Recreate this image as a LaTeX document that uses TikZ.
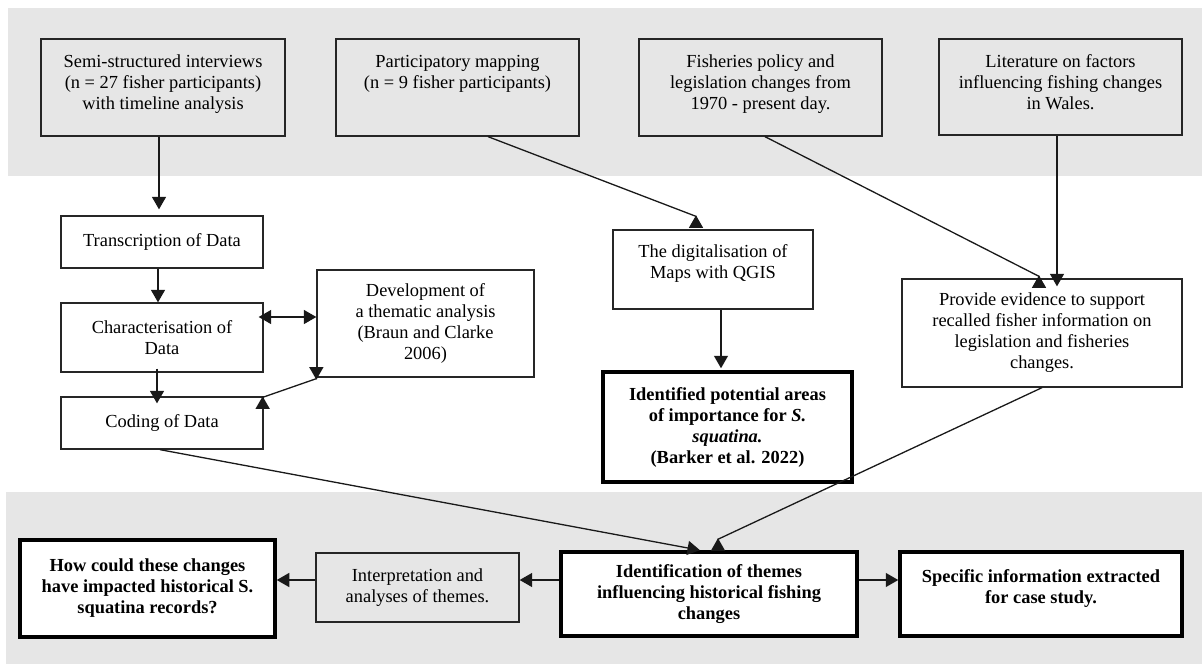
\documentclass[tikz,border=0pt]{standalone}
\usepackage{fontspec}
\setmainfont{Liberation Serif}
\usetikzlibrary{arrows.meta}
\definecolor{band}{HTML}{E6E6E6}
\newcommand{\toppar}[3]{\parbox[c][#1][t]{#2}{\centering\strut #3}}
\begin{document}
\begin{tikzpicture}[x=1pt,y=-1pt,
  box/.style={draw=black!85, line width=1.3pt, fill=white, inner sep=0pt, align=center,
    font=\fontsize{18.4}{21}\selectfont},
  gbox/.style={box, fill=band},
  bbox/.style={box, draw=black, line width=3.5pt, font=\fontsize{18.4}{21}\selectfont\bfseries},
  tipa/.tip={Triangle[length=12.5pt,width=14pt]},
  arr/.style={line width=1.3pt, draw=black!90, -tipa},
  dbl/.style={line width=1.3pt, draw=black!90, tipa-tipa}]
\useasboundingbox (0,0) rectangle (1202,664);
% bands
\fill[band] (8,8) rectangle (1202,176);
\fill[band] (6,492) rectangle (1202,664);
% top row
\node[gbox, minimum width=244pt, minimum height=97pt] (semi) at (163,87.5)
  {\toppar{70.4pt}{236pt}{Semi-structured interviews\\(n = 27 fisher participants)\\with timeline analysis}};
\node[gbox, minimum width=243pt, minimum height=97pt] (part) at (457.5,87.5)
  {\toppar{70.4pt}{235pt}{Participatory mapping\\(n = 9 fisher participants)}};
\node[gbox, minimum width=243pt, minimum height=97pt] (fish) at (760.5,87.5)
  {\toppar{70.4pt}{235pt}{Fisheries policy and\\legislation changes from\\1970 - present day.}};
\node[gbox, minimum width=243pt, minimum height=96pt] (lit) at (1060.5,87)
  {\toppar{69.4pt}{235pt}{Literature on factors\\influencing fishing changes\\in Wales.}};
% middle
\node[box, minimum width=202pt, minimum height=52pt] (trans) at (162,242) {Transcription of Data};
\node[box, minimum width=202pt, minimum height=69pt] (char) at (162,337.5) {Characterisation of\\Data};
\node[box, minimum width=217pt, minimum height=107pt] (dev) at (425.5,323.5)
  {Development of\\a thematic analysis\\(Braun and Clarke\\2006)};
\node[box, minimum width=202pt, minimum height=52pt] (coding) at (162,423) {Coding of Data};
\node[box, minimum width=200pt, minimum height=79pt] (digit) at (713,269.5)
  {\toppar{54.4pt}{192pt}{The digitalisation of\\Maps with QGIS}};
\node[bbox, minimum width=249pt, minimum height=110pt] (ident) at (727.5,427)
  {Identified potential areas\\of importance for \textit{S.}\\\textit{squatina.}\\(Barker et al. 2022)};
\node[box, minimum width=280pt, minimum height=108pt] (prov) at (1042,333)
  {Provide evidence to support\\recalled fisher information on\\legislation and fisheries\\changes.};
% bottom row
\node[bbox, minimum width=255pt, minimum height=97pt] (how) at (147.5,588.5)
  {How could these changes\\have impacted historical S.\\squatina records?};
\node[gbox, minimum width=203pt, minimum height=69pt] (interp) at (417.5,587.5)
  {Interpretation and\\analyses of themes.};
\node[bbox, minimum width=296pt, minimum height=84pt] (themes) at (709,594)
  {Identification of themes\\influencing historical fishing\\changes};
\node[bbox, minimum width=282pt, minimum height=84pt] (spec) at (1041,594)
  {\toppar{53.4pt}{270pt}{Specific information extracted\\for case study.}};
% connectors
\draw[arr, shorten >=6pt] ([xshift=-4pt]semi.south) -- ([xshift=-4pt]semi.south |- trans.north);
\draw[arr] ([xshift=-4pt]trans.south) -- ([xshift=-4pt]char.north);
\coordinate (cd) at ([yshift=20.5pt]char.east);
\draw[dbl] ([xshift=-5pt]cd) -- (cd -| dev.west);
\draw[arr] ([xshift=-5pt,yshift=4pt]char.south) -- ([xshift=-5pt,yshift=-7pt]coding.north);
\draw[dbl] ([xshift=-1pt]coding.north east) -- ++(0,1) -- ([yshift=-1pt]dev.south west) -- ++(0,1);
\draw[arr] ([xshift=30.5pt]part.south) -- ([xshift=-17pt,yshift=13pt]digit.north) -- ([xshift=-17pt,yshift=14pt]digit.north);
\draw[arr] ([xshift=4.5pt]fish.south) -- ([xshift=-3pt,yshift=2pt]prov.north) -- ([xshift=-3pt,yshift=3pt]prov.north);
\draw[arr, shorten >=-8pt] ([xshift=-3.5pt]lit.south) -- ([xshift=-3.5pt]lit.south |- prov.north);
\draw[arr, shorten >=2pt] ([xshift=8pt]digit.south) -- ([xshift=8pt]digit.south |- ident.north);
\draw[arr] ([xshift=-2pt]coding.south) -- ([xshift=-9pt]themes.north);
\draw[arr] (prov.south) -- ([xshift=9pt,yshift=11pt]themes.north) -- ([xshift=9pt,yshift=12pt]themes.north);
\draw[arr] ([yshift=14pt]themes.west) -- ([yshift=14pt]themes.west -| interp.east);
\draw[arr] ([yshift=7.5pt]interp.west) -- ([yshift=7.5pt]interp.west -| how.east);
\draw[arr] ([yshift=14pt]themes.east) -- ([yshift=14pt]themes.east -| spec.west);
\end{tikzpicture}
\end{document}
